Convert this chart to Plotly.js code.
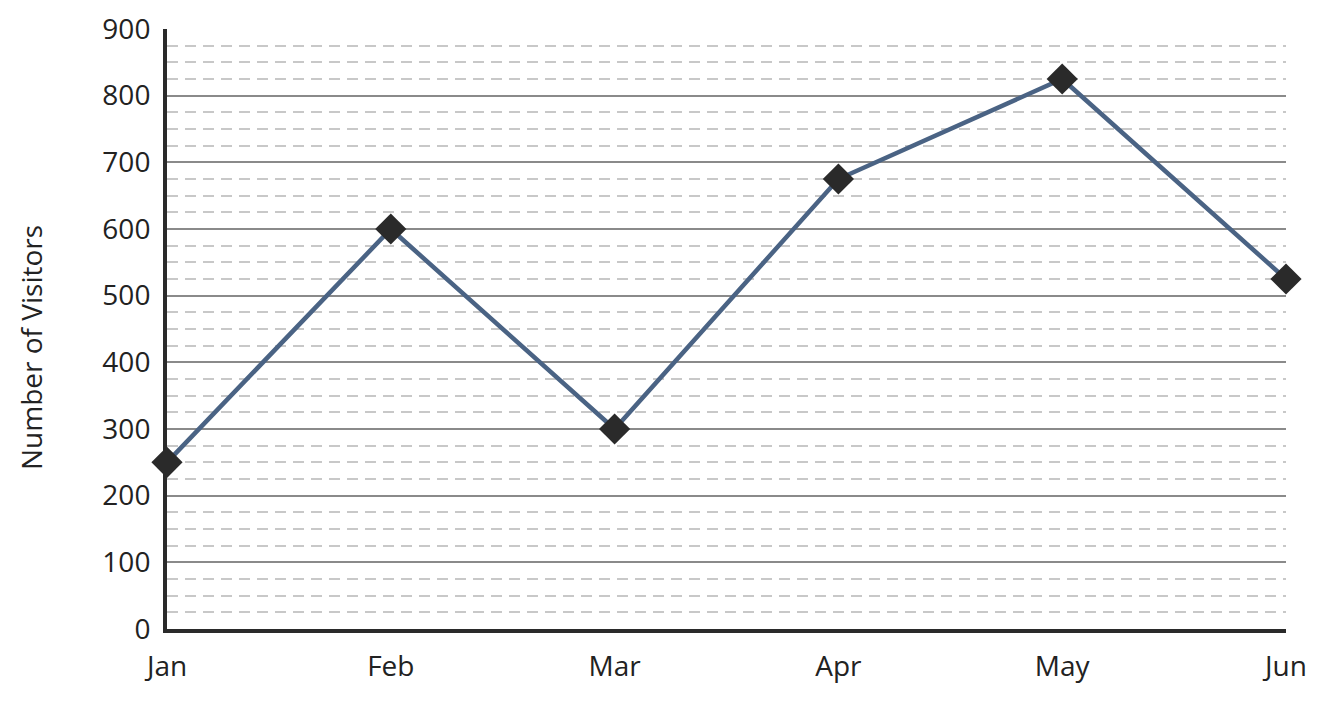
<!DOCTYPE html>
<html><head><meta charset="utf-8">
<script src="https://cdn.plot.ly/plotly-3.0.1.min.js"></script>
<style>html,body{margin:0;padding:0;background:#fff}#chart{width:1326px;height:702px}</style>
</head><body><div id="chart"></div>
<script>
const months = ["Jan", "Feb", "Mar", "Apr", "May", "Jun"];
const visitors = [250, 600, 300, 675, 825, 525];
const yTickValues = [0, 100, 200, 300, 400, 500, 600, 700, 800, 900];
const yAxisTitle = "Number of Visitors";

const font = "'Segoe UI', 'Open Sans', 'Noto Sans', sans-serif";
const plotW = 1326 - 167 - 40, plotH = 702 - 29 - 73;
Plotly.newPlot("chart", [{
  x: months, y: visitors, type: "scatter", mode: "lines+markers",
  line: {color: "#4a6384", width: 4.5},
  marker: {symbol: "diamond", size: 24, color: "#2a2a2a"},
  cliponaxis: false, hoverinfo: "skip"
}], {
  width: 1326, height: 702,
  margin: {l: 167, r: 40, t: 29, b: 73},
  paper_bgcolor: "#fff", plot_bgcolor: "#fff",
  showlegend: false,
  font: {family: font, color: "#222", size: 28},
  xaxis: {
    type: "category", range: [0, 5], showgrid: false, zeroline: false,
    showline: true, linecolor: "#2a2a2a", linewidth: 4,
    ticks: "", ticklabelstandoff: 9, tickfont: {size: 28, color: "#222"}
  },
  yaxis: {
    range: [0, 900], tickvals: yTickValues, zeroline: false,
    showline: true, linecolor: "#2a2a2a", linewidth: 4,
    showgrid: true, gridcolor: "#8a8a8a", gridwidth: 2,
    minor: {dtick: 25, showgrid: true, gridcolor: "#c8c8c8", gridwidth: 2, griddash: "11px,7px"},
    ticks: "", ticklabelstandoff: 7, tickfont: {size: 28, color: "#222"}
  },
  annotations: [{
    text: yAxisTitle, textangle: -90, showarrow: false,
    xref: "paper", yref: "paper",
    x: (31 - 167) / plotW, y: (629 - 348) / plotH,
    xanchor: "center", yanchor: "middle",
    font: {size: 28, color: "#222"}
  }]
}, {staticPlot: true});
</script></body></html>
